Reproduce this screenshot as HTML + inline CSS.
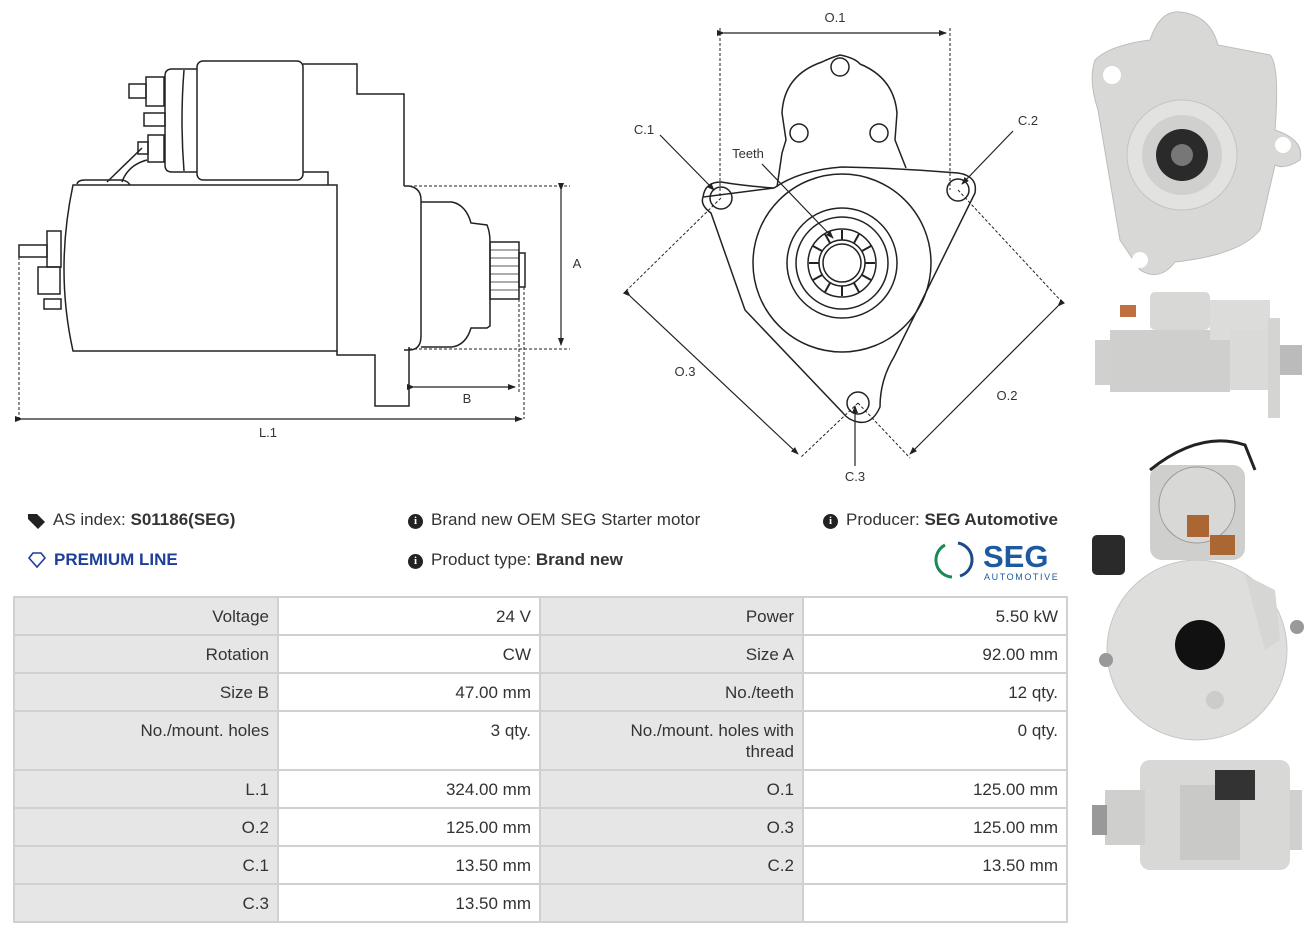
<!DOCTYPE html>
<html><head><meta charset="utf-8"><style>
body{margin:0;width:1316px;height:936px;background:#fff;position:relative;overflow:hidden;font-family:"Liberation Sans",sans-serif;color:#333}
.a{position:absolute}
.c{position:absolute;box-sizing:border-box;text-align:right;padding:8px 8px 0 8px;font-size:17px;line-height:21px;color:#333}
.g{background:#e6e6e6}.w{background:#fff}
.info{position:absolute;font-size:17px;color:#333;white-space:nowrap}
.ic{display:inline-block;width:15px;height:15px;border-radius:50%;background:#222;color:#fff;font-size:11px;font-weight:bold;text-align:center;line-height:15px;vertical-align:1px;margin-right:8px;font-family:"Liberation Serif",serif}
</style></head><body>
<svg class="a" style="left:0;top:0" width="1316" height="936" viewBox="0 0 1316 936">
<defs><marker id="ar" markerWidth="8" markerHeight="8" refX="7" refY="4" orient="auto" markerUnits="userSpaceOnUse"><path d="M0,1 L8,4 L0,7z" fill="#222"/></marker></defs>
<g fill="none" stroke="#222" stroke-width="1.5">
<rect x="197" y="61" width="106" height="119" rx="6" fill="#fff"/>
<path d="M197,69 L172,69 Q165,69 165,76 L165,165 Q165,172 172,172 L197,172"/>
<path d="M184,70 Q180,120 184,171"/>
<rect x="146" y="77" width="18" height="29"/><rect x="129" y="84" width="17" height="14"/>
<rect x="144" y="113" width="21" height="13"/>
<rect x="148" y="135" width="16" height="27"/><rect x="138" y="142" width="10" height="12"/>
<path d="M303,64 L357,64 L357,94 L404,94 L404,186 M303,172 L328,172 L328,185"/>
<path d="M78,185 L337,185 L337,351 L73,351 Q55,270 73,185z"/>
<path d="M337,351 L337,355 L375,355 L375,406 L409,406 L409,347"/>
<path d="M77,184 Q78,180 85,180 L122,180 Q128,181 130,185"/>
<path d="M107,182 L142,148 M122,182 Q128,165 147,160"/>
<rect x="47" y="231" width="14" height="36"/><rect x="19" y="245" width="28" height="12"/>
<rect x="38" y="267" width="22" height="27"/><rect x="44" y="299" width="17" height="10"/>
<path d="M404,186 L409,186 Q421,188 421,200 L421,336 Q421,350 409,350 L404,350"/>
<path d="M421,202 L452,202 Q466,205 471,223 L487,225 Q490,232 490,242 L490,299 L490,326 L487,328 L471,328 Q466,345 452,347 L421,347"/>
<rect x="490" y="242" width="29" height="57"/><rect x="519" y="253" width="6" height="34"/>
<path d="M490,250 H519 M490,258 H519 M490,266 H519 M490,274 H519 M490,282 H519 M490,290 H519" stroke-width="0.8"/>
</g>
<g fill="none" stroke="#222" stroke-width="1" stroke-dasharray="3,2">
<path d="M409,186 H570 M409,349 H570 M519,299 V392 M524,287 V419 M19,257 V419"/>
</g>
<g stroke="#222" stroke-width="1.2" fill="none">
<path d="M561,190 V345" marker-end="url(#ar)" marker-start="url(#ar)"/>
<path d="M414,387 H515" marker-end="url(#ar)" marker-start="url(#ar)"/>
<path d="M22,419 H522" marker-end="url(#ar)" marker-start="url(#ar)"/>
</g>
<g fill="none" stroke="#222" stroke-width="1.5">
<path d="M703,197 Q705,182 721,182 Q745,186 774,188 M774,188 Q800,170 842,167 Q900,168 958,173 Q978,176 975,193 L894,357 Q880,380 880,407 Q872,425 858,422 Q848,420 843,413 L745,310 L711,213 Q700,205 703,197z"/>
<path d="M777,187 L782,153 L786,140 L782,113 Q784,75 822,62 Q830,58 840,55 Q855,58 860,64 Q894,78 897,113 L895,140 L906,168" />
<circle cx="840" cy="67" r="9"/><circle cx="799" cy="133" r="9"/><circle cx="879" cy="133" r="9"/>
<circle cx="842" cy="263" r="89"/><circle cx="842" cy="263" r="55"/><circle cx="842" cy="263" r="46"/>
<circle cx="842" cy="263" r="34"/><circle cx="842" cy="263" r="23"/><circle cx="842" cy="263" r="19"/>
<circle cx="721" cy="198" r="11"/><circle cx="958" cy="190" r="11"/><circle cx="858" cy="403" r="11"/>
</g>
<g stroke="#222" stroke-width="2">
<path d="M842,230 V240 M842,296 V286 M809,263 H819 M875,263 H865 M825,234 L830,243 M859,234 L854,243 M825,292 L830,283 M859,292 L854,283 M813,246 L822,251 M871,246 L862,251 M813,280 L822,275 M871,280 L862,275"/>
</g>
<g fill="none" stroke="#222" stroke-width="1" stroke-dasharray="3,2">
<path d="M720,28 V198 M950,28 V190 M721,198 L625,292 M858,403 L800,458 M958,190 L1062,302 M858,403 L910,458"/>
</g>
<g stroke="#222" stroke-width="1.2" fill="none">
<path d="M724,33 H946" marker-end="url(#ar)" marker-start="url(#ar)"/>
<path d="M630,296 L798,454" marker-end="url(#ar)" marker-start="url(#ar)"/>
<path d="M1058,306 L910,454" marker-end="url(#ar)" marker-start="url(#ar)"/>
<path d="M660,135 L714,190" marker-end="url(#ar)"/>
<path d="M1013,131 L962,184" marker-end="url(#ar)"/>
<path d="M855,466 V406" marker-end="url(#ar)"/>
<path d="M762,164 L833,238" marker-end="url(#ar)"/>
</g>
<g font-family="'Liberation Sans',sans-serif" font-size="13" fill="#333" text-anchor="middle">
<text x="577" y="268">A</text><text x="467" y="403">B</text><text x="268" y="437">L.1</text>
<text x="835" y="22">O.1</text><text x="644" y="134">C.1</text><text x="1028" y="125">C.2</text>
<text x="855" y="481">C.3</text><text x="748" y="158">Teeth</text><text x="685" y="376">O.3</text><text x="1007" y="400">O.2</text>
</g>
<!-- photo 1 -->
<path d="M1150,40 Q1160,10 1180,12 Q1210,15 1218,45 L1270,55 Q1280,65 1275,130 Q1305,140 1300,160 Q1285,170 1275,165 L1260,230 Q1240,255 1175,262 Q1160,282 1140,270 Q1130,255 1120,240 L1098,110 Q1088,80 1095,60 Q1110,45 1150,40z" fill="#d8d8d6" stroke="#bdbdbb"/>
<circle cx="1182" cy="155" r="55" fill="#e2e2e0" stroke="#c4c4c2"/>
<circle cx="1182" cy="155" r="40" fill="#d0d0ce"/>
<circle cx="1182" cy="155" r="26" fill="#2a2a2a"/><circle cx="1182" cy="155" r="11" fill="#777"/>
<circle cx="1112" cy="75" r="9" fill="#fff"/><circle cx="1283" cy="145" r="8" fill="#fff"/><circle cx="1140" cy="260" r="8" fill="#fff"/>
<!-- photo 2 -->
<rect x="1110" y="330" width="120" height="62" fill="#cfcfcd"/>
<rect x="1150" y="292" width="60" height="38" rx="5" fill="#d8d8d6"/>
<rect x="1210" y="300" width="60" height="40" fill="#dcdcda"/>
<rect x="1230" y="330" width="40" height="60" fill="#dadad8"/>
<rect x="1268" y="318" width="12" height="100" fill="#d4d4d2"/>
<rect x="1280" y="345" width="22" height="30" fill="#bbb"/>
<rect x="1095" y="340" width="15" height="45" fill="#d0d0ce"/>
<rect x="1120" y="305" width="16" height="12" fill="#c07040"/>
<!-- photo 3 -->
<circle cx="1197" cy="650" r="90" fill="#dededc" stroke="#c6c6c4"/>
<path d="M1245,575 L1275,590 L1280,640 L1265,650z" fill="#d6d6d4"/>
<rect x="1150" y="465" width="95" height="95" rx="12" fill="#cfcfcd"/>
<circle cx="1197" cy="505" r="38" fill="#d8d8d6" stroke="#999"/>
<rect x="1187" y="515" width="22" height="22" fill="#aa6633"/>
<rect x="1210" y="535" width="25" height="20" fill="#aa6633"/>
<rect x="1092" y="535" width="33" height="40" rx="5" fill="#2a2a2a"/>
<path d="M1150,470 Q1200,430 1245,445 L1255,470" fill="none" stroke="#222" stroke-width="3"/>
<circle cx="1200" cy="645" r="25" fill="#111"/>
<circle cx="1106" cy="660" r="7" fill="#999"/><circle cx="1297" cy="627" r="7" fill="#999"/><circle cx="1215" cy="700" r="9" fill="#ccc"/>
<!-- photo 4 -->
<rect x="1140" y="760" width="150" height="110" rx="10" fill="#d8d8d6"/>
<rect x="1180" y="785" width="60" height="75" fill="#c9c9c7"/>
<rect x="1105" y="790" width="40" height="55" fill="#cfcfcd"/>
<rect x="1092" y="805" width="15" height="30" fill="#999"/>
<rect x="1215" y="770" width="40" height="30" fill="#333"/>
<rect x="1290" y="790" width="12" height="60" fill="#d0d0ce"/>
<!-- SEG logo -->
<path d="M945,545 A17,17 0 0 0 952,577" fill="none" stroke="#1a8a55" stroke-width="3"/>
<path d="M958,543 A17,17 0 0 1 960,576" fill="none" stroke="#1d4b8a" stroke-width="3"/>
<text x="983" y="567" font-family="'Liberation Sans',sans-serif" font-size="31" font-weight="bold" fill="#1d5aa0">SEG</text>
<text x="984" y="580" font-family="'Liberation Sans',sans-serif" font-size="9" fill="#1d5aa0" letter-spacing="1.6">AUTOMOTIVE</text>
<path d="M28,514 L37,514 L45,522 L38,529 L28,519z" fill="#222"/>
<path d="M33,553 L41,553 L45,558 L37,567 L29,558z" fill="none" stroke="#1d3f9a" stroke-width="1.6"/>
</svg>
<div class="info" style="left:53px;top:510px">AS index: <b>S01186(SEG)</b></div>
<div class="info" style="left:54px;top:550px;color:#1d3f9a;font-weight:bold">PREMIUM LINE</div>
<div class="info" style="left:408px;top:510px"><span class="ic">i</span>Brand new OEM SEG Starter motor</div>
<div class="info" style="left:408px;top:550px"><span class="ic">i</span>Product type: <b>Brand new</b></div>
<div class="info" style="left:823px;top:510px"><span class="ic">i</span>Producer: <b>SEG Automotive</b></div>
<div class="a" style="left:13px;top:596px;width:1055px;height:327px;background:#d0d0d0"></div>
<div class="c g" style="left:15px;top:598px;width:262px;height:36px">Voltage</div>
<div class="c w" style="left:279px;top:598px;width:260px;height:36px">24 V</div>
<div class="c g" style="left:541px;top:598px;width:261px;height:36px">Power</div>
<div class="c w" style="left:804px;top:598px;width:262px;height:36px">5.50 kW</div>
<div class="c g" style="left:15px;top:636px;width:262px;height:36px">Rotation</div>
<div class="c w" style="left:279px;top:636px;width:260px;height:36px">CW</div>
<div class="c g" style="left:541px;top:636px;width:261px;height:36px">Size A</div>
<div class="c w" style="left:804px;top:636px;width:262px;height:36px">92.00 mm</div>
<div class="c g" style="left:15px;top:674px;width:262px;height:36px">Size B</div>
<div class="c w" style="left:279px;top:674px;width:260px;height:36px">47.00 mm</div>
<div class="c g" style="left:541px;top:674px;width:261px;height:36px">No./teeth</div>
<div class="c w" style="left:804px;top:674px;width:262px;height:36px">12 qty.</div>
<div class="c g" style="left:15px;top:712px;width:262px;height:57px">No./mount. holes</div>
<div class="c w" style="left:279px;top:712px;width:260px;height:57px">3 qty.</div>
<div class="c g" style="left:541px;top:712px;width:261px;height:57px">No./mount. holes with<br>thread</div>
<div class="c w" style="left:804px;top:712px;width:262px;height:57px">0 qty.</div>
<div class="c g" style="left:15px;top:771px;width:262px;height:36px">L.1</div>
<div class="c w" style="left:279px;top:771px;width:260px;height:36px">324.00 mm</div>
<div class="c g" style="left:541px;top:771px;width:261px;height:36px">O.1</div>
<div class="c w" style="left:804px;top:771px;width:262px;height:36px">125.00 mm</div>
<div class="c g" style="left:15px;top:809px;width:262px;height:36px">O.2</div>
<div class="c w" style="left:279px;top:809px;width:260px;height:36px">125.00 mm</div>
<div class="c g" style="left:541px;top:809px;width:261px;height:36px">O.3</div>
<div class="c w" style="left:804px;top:809px;width:262px;height:36px">125.00 mm</div>
<div class="c g" style="left:15px;top:847px;width:262px;height:36px">C.1</div>
<div class="c w" style="left:279px;top:847px;width:260px;height:36px">13.50 mm</div>
<div class="c g" style="left:541px;top:847px;width:261px;height:36px">C.2</div>
<div class="c w" style="left:804px;top:847px;width:262px;height:36px">13.50 mm</div>
<div class="c g" style="left:15px;top:885px;width:262px;height:36px">C.3</div>
<div class="c w" style="left:279px;top:885px;width:260px;height:36px">13.50 mm</div>
<div class="c g" style="left:541px;top:885px;width:261px;height:36px"></div>
<div class="c w" style="left:804px;top:885px;width:262px;height:36px"></div>
</body></html>
